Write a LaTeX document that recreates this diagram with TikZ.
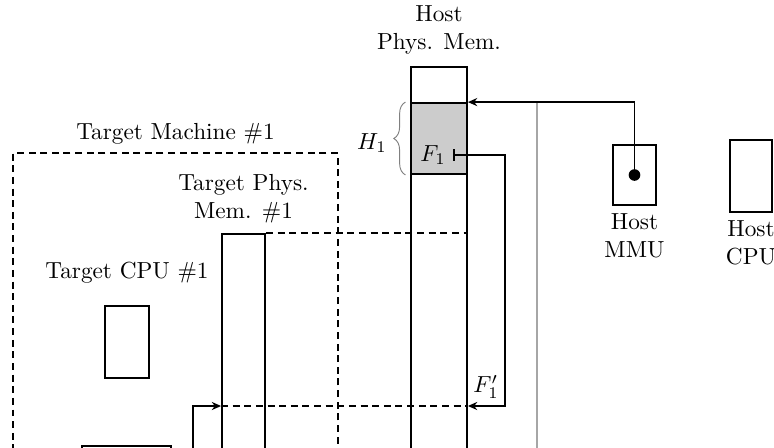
\documentclass[tikz,border=0pt]{standalone}
\usepackage{amssymb}
\usetikzlibrary{positioning,arrows.meta,fit,decorations.pathreplacing,calc}

\begin{document}
\begin{tikzpicture}[x=0.43pt,y=-0.43pt,
  box/.style={draw,thick,inner sep=0pt},
  lbl/.style={align=center,inner sep=1pt},
  dsh/.style={thick,dash pattern=on 3pt off 2pt},
  >={Stealth[length=4pt,width=3.5pt]}]
\useasboundingbox (0,0) rectangle (774,447);
\clip (0,0) rectangle (774,447);
% host side
\node[box,fit={(411,67) (467,700)}] (hmem) {};
\node[box,fill=gray!40,fit={(411,103) (467,174)}] (h1) {};
\node[lbl,above=4pt of hmem] (hmemlbl) {Host\\Phys. Mem.};
\node[inner sep=1pt] (f1) at (433,155) {$F_1$};
\node[box,fit={(613,145) (656,205)}] (mmu) {};
\node[lbl,below=2pt of mmu] (mmulbl) {Host\\MMU};
\node[circle,fill,inner sep=0pt,minimum size=5pt] (mdot) at (mmu.center) {};
\node[box,fit={(730,140) (772,212)}] (hcpu) {};
\node[lbl,below=2pt of hcpu] (hcpulbl) {Host\\CPU};
\coordinate (sepbot) at (537,700);
\coordinate (f1c) at (505,406);
% target side
\node[draw,dsh,inner sep=0pt,fit={(13,153) (338,700)}] (tm) {};
\node[lbl,above=2pt of tm] (tmlbl) {Target Machine \#1};
\node[box,fit={(222,234) (265,700)}] (tmem) {};
\node[lbl,above=3pt of tmem] (tmemlbl) {Target Phys.\\Mem. \#1};
\node[box,fit={(105,306) (149,378)}] (tcpu) {};
\node[lbl,above=8pt of tcpu] (tcpulbl) {Target CPU \#1};
\node[box,fit={(82,446) (171,520)}] (tbox) {};
\coordinate (lft) at (193,700);
% connectors
\draw[gray!70,thick] (sepbot |- h1.north) -- (sepbot);
\draw[thick,->] (mdot) |- (h1.north east);
\draw[gray,decorate,decoration={brace,amplitude=5pt}] ([xshift=-2pt]h1.south west) -- ([xshift=-2pt]h1.north west);
\node (h1lbl) at (372,143) {$H_1$};
\draw[thick,{Bar[width=5pt]}->] ([xshift=2pt]f1.east) -| (f1c) -- (f1c -| hmem.east);
\node[anchor=south east,inner sep=1pt] (f1plbl) at ([xshift=-1.5pt,yshift=2pt]f1c) {$F_1'$};
\draw[dsh] (tmem.north east) -- (hmem.east |- tmem.north);
\draw[dsh] (tmem.west |- f1c) -- (f1c -| hmem.east);
\draw[thick,->] (lft) |- (tmem.west |- f1c);
\end{tikzpicture}
\end{document}
